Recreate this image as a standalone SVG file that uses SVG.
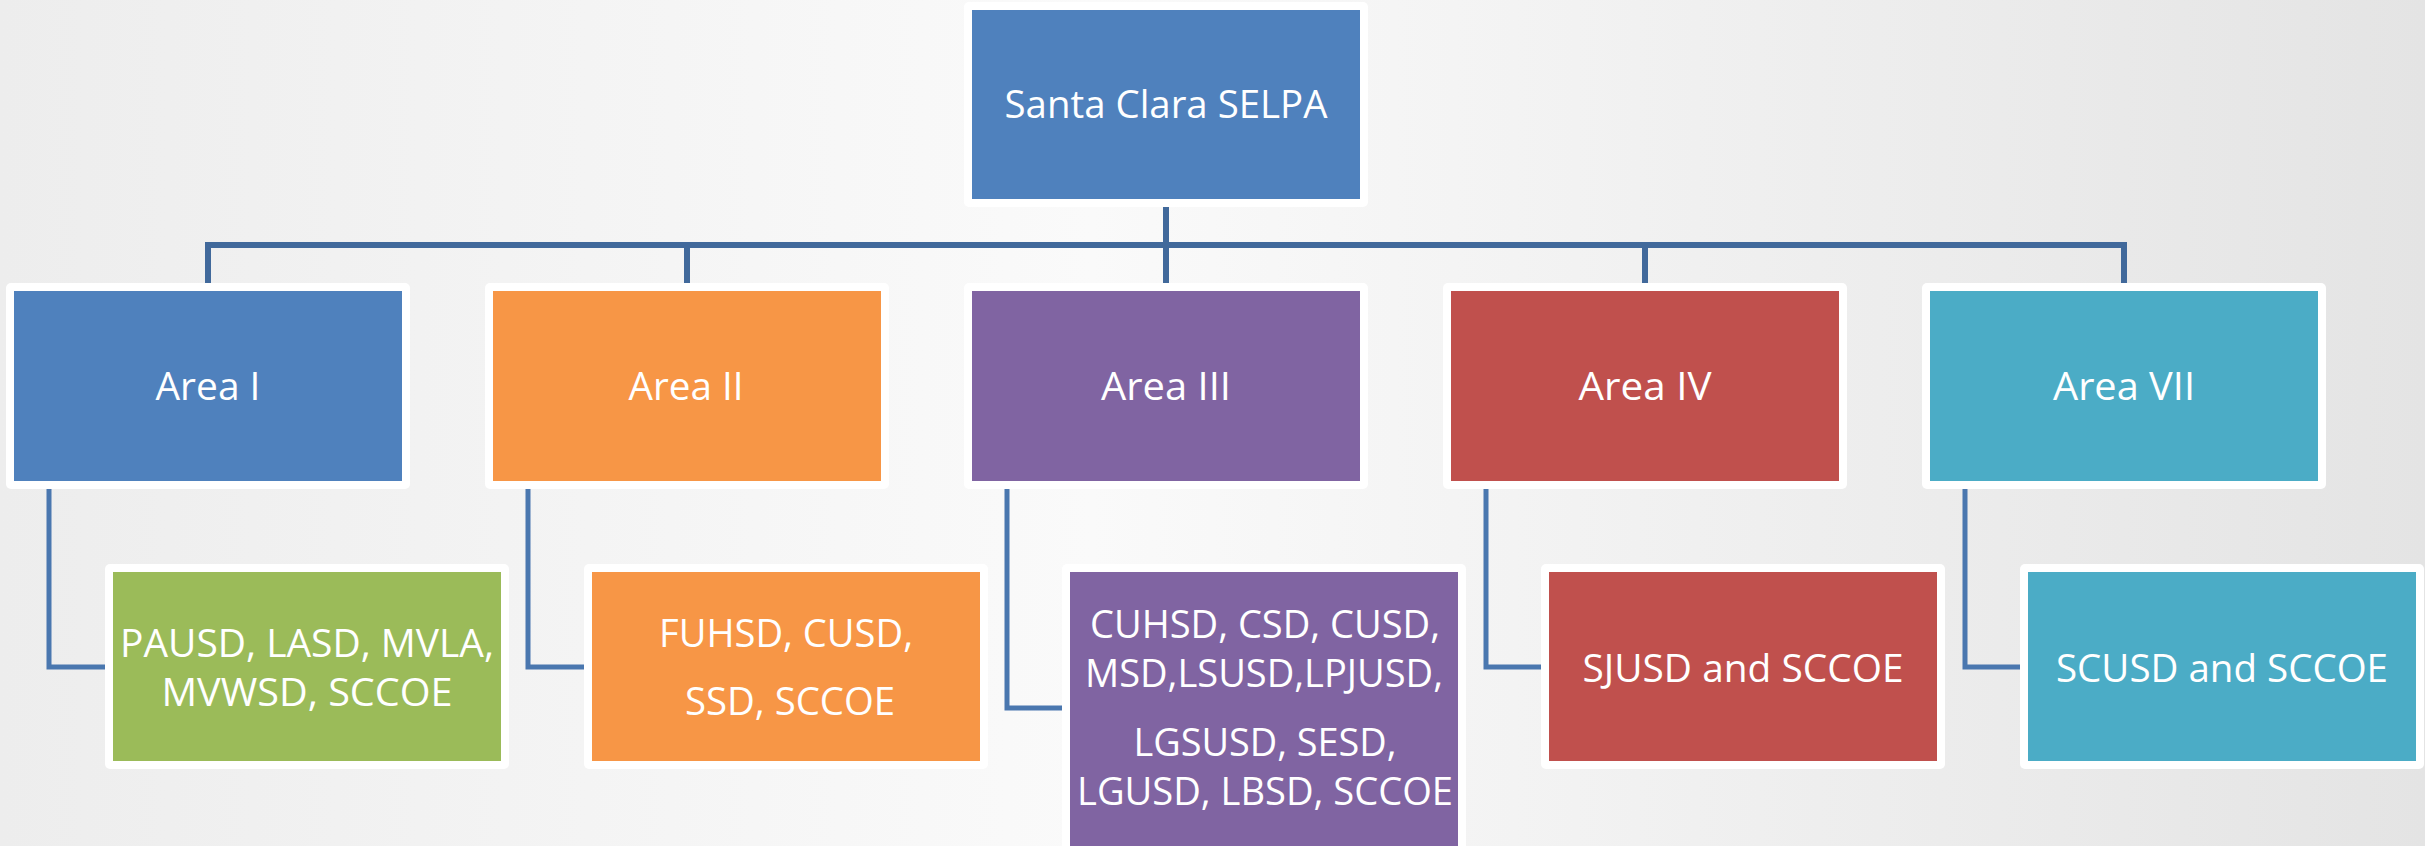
<svg xmlns="http://www.w3.org/2000/svg" width="2425" height="846" viewBox="0 0 2425 846">
  <defs>
    <linearGradient id="bg" x1="0" y1="0" x2="1" y2="0">
      <stop offset="0" stop-color="#EDEDED"/>
      <stop offset="0.45" stop-color="#FAFAFA"/>
      <stop offset="1" stop-color="#E4E4E4"/>
    </linearGradient>
    <style>
      .frame { fill: #FFFFFF; }
      .t { font-family: "Open Sans", "Noto Sans", "Liberation Sans", sans-serif; font-size: 39px; fill: #FFFFFF; text-anchor: middle; }
      .up { fill: none; stroke: #41699B; stroke-width: 6; stroke-linejoin: miter; }
      .lo { fill: none; stroke: #4A77AF; stroke-width: 5; stroke-linejoin: miter; }
      .blue { fill: #4F81BD; }
      .orange { fill: #F79646; }
      .purple { fill: #8064A2; }
      .red { fill: #C0504D; }
      .teal { fill: #4BACC6; }
      .green { fill: #9BBB59; }
    </style>
  </defs>
  <rect x="0" y="0" width="2425" height="846" fill="url(#bg)"/>

  <g id="connectors">
    <path class="up" d="M1166,207 V283"/>
    <path class="up" d="M208,283 V245 H2124 V283"/>
    <path class="up" d="M687,245 V283"/>
    <path class="up" d="M1645,245 V283"/>
    <path class="lo" d="M49,489 V667 H106"/>
    <path class="lo" d="M528,489 V667 H585"/>
    <path class="lo" d="M1007,489 V708 H1063"/>
    <path class="lo" d="M1486,489 V667 H1542"/>
    <path class="lo" d="M1965,489 V667 H2021"/>
  </g>

  <g id="root">
    <rect class="frame" x="964" y="2" width="404" height="205" rx="5"/>
    <rect class="blue" x="972" y="10" width="388" height="189"/>
    <text class="t" x="1166" y="118" textLength="323" lengthAdjust="spacingAndGlyphs">Santa Clara SELPA</text>
  </g>

  <g id="area1">
    <rect class="frame" x="6" y="283" width="404" height="206" rx="5"/>
    <rect class="blue" x="14" y="291" width="388" height="190"/>
    <text class="t" x="208" y="400" textLength="105" lengthAdjust="spacingAndGlyphs">Area I</text>
  </g>
  <g id="area2">
    <rect class="frame" x="485" y="283" width="404" height="206" rx="5"/>
    <rect class="orange" x="493" y="291" width="388" height="190"/>
    <text class="t" x="686" y="400" textLength="115" lengthAdjust="spacingAndGlyphs">Area II</text>
  </g>
  <g id="area3">
    <rect class="frame" x="964" y="283" width="404" height="206" rx="5"/>
    <rect class="purple" x="972" y="291" width="388" height="190"/>
    <text class="t" x="1166" y="400" textLength="130" lengthAdjust="spacingAndGlyphs">Area III</text>
  </g>
  <g id="area4">
    <rect class="frame" x="1443" y="283" width="404" height="206" rx="5"/>
    <rect class="red" x="1451" y="291" width="388" height="190"/>
    <text class="t" x="1645" y="400" textLength="133" lengthAdjust="spacingAndGlyphs">Area IV</text>
  </g>
  <g id="area7">
    <rect class="frame" x="1922" y="283" width="404" height="206" rx="5"/>
    <rect class="teal" x="1930" y="291" width="388" height="190"/>
    <text class="t" x="2124" y="400" textLength="142" lengthAdjust="spacingAndGlyphs">Area VII</text>
  </g>

  <g id="districts1">
    <rect class="frame" x="105" y="564" width="404" height="205" rx="5"/>
    <rect class="green" x="113" y="572" width="388" height="189"/>
    <text class="t" x="307" y="657" textLength="374" lengthAdjust="spacingAndGlyphs">PAUSD, LASD, MVLA,</text>
    <text class="t" x="307" y="706" textLength="291" lengthAdjust="spacingAndGlyphs">MVWSD, SCCOE</text>
  </g>
  <g id="districts2">
    <rect class="frame" x="584" y="564" width="404" height="205" rx="5"/>
    <rect class="orange" x="592" y="572" width="388" height="189"/>
    <text class="t" x="786" y="647" textLength="254" lengthAdjust="spacingAndGlyphs">FUHSD, CUSD,</text>
    <text class="t" x="790" y="715" textLength="210" lengthAdjust="spacingAndGlyphs">SSD, SCCOE</text>
  </g>
  <g id="districts3">
    <rect class="frame" x="1062" y="564" width="404" height="300" rx="5"/>
    <rect class="purple" x="1070" y="572" width="388" height="290"/>
    <text class="t" x="1265" y="638" textLength="350" lengthAdjust="spacingAndGlyphs">CUHSD, CSD, CUSD,</text>
    <text class="t" x="1264" y="687" textLength="358" lengthAdjust="spacingAndGlyphs">MSD,LSUSD,LPJUSD,</text>
    <text class="t" x="1265" y="756" textLength="263" lengthAdjust="spacingAndGlyphs">LGSUSD, SESD,</text>
    <text class="t" x="1265" y="805" textLength="376" lengthAdjust="spacingAndGlyphs">LGUSD, LBSD, SCCOE</text>
  </g>
  <g id="districts4">
    <rect class="frame" x="1541" y="564" width="404" height="205" rx="5"/>
    <rect class="red" x="1549" y="572" width="388" height="189"/>
    <text class="t" x="1743" y="682" textLength="321" lengthAdjust="spacingAndGlyphs">SJUSD and SCCOE</text>
  </g>
  <g id="districts7">
    <rect class="frame" x="2020" y="564" width="404" height="205" rx="5"/>
    <rect class="teal" x="2028" y="572" width="388" height="189"/>
    <text class="t" x="2222" y="682" textLength="332" lengthAdjust="spacingAndGlyphs">SCUSD and SCCOE</text>
  </g>
</svg>
